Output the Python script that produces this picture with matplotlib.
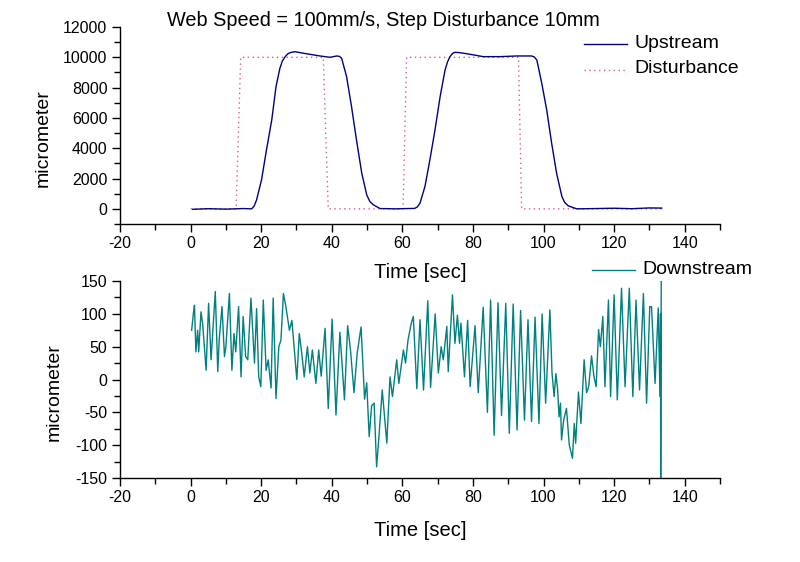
import numpy as np
import matplotlib
matplotlib.use("Agg")
import matplotlib.pyplot as plt
from matplotlib.lines import Line2D
from matplotlib.ticker import MultipleLocator

plt.rcParams["font.family"] = ["Liberation Sans", "DejaVu Sans"]
plt.rcParams["axes.unicode_minus"] = False

# ---------------------------------------------------------------------------
# Data
# ---------------------------------------------------------------------------
TITLE = "Web Speed = 100mm/s, Step Disturbance 10mm"

up_t = [0.6, 5, 10, 15, 17.3, 18.0, 18.7, 20.1, 21.5, 23.0, 24.2, 25.3, 26.0,
        26.8, 27.5, 28.2, 29.6, 31.0, 33.8, 36.7, 39.5, 41.4, 42.2, 42.8, 44.2,
        45.6, 47.0, 48.5, 49.9, 50.8, 51.8, 53.7, 58, 63.5, 64.2, 65.0, 66.4,
        67.8, 69.25, 70.7, 72.1, 72.8, 73.5, 74.2, 74.9, 76.3, 79.2, 82.9, 87.7,
        92.4, 96.6, 97.4, 98.1, 99.5, 100.9, 102.3, 103.7, 105.2, 106.0, 107.0,
        109.4, 115, 120, 125, 130, 133.5]
up_v = [-30, 10, -20, 20, 0, 180, 593, 1912, 3890, 5868, 8064, 9274, 9750,
        10044, 10220, 10308, 10373, 10308, 10198, 10088, 10000, 10088, 10060,
        9934, 8724, 6747, 4549, 2352, 923, 480, 264, 20, 0, 30, 120, 374, 1472,
        3230, 5208, 7406, 9164, 9700, 10044, 10250, 10330, 10308, 10198, 10044,
        10044, 10088, 10088, 10020, 9823, 8284, 6527, 4329, 2352, 813, 420, 198,
        0, 20, 40, 10, 60, 50]

dist_t = [0, 12.9, 14.2, 37.6, 39.0, 60.2, 61.2, 92.9, 93.8, 133.5]
dist_v = [0, 0, 10000, 10000, 0, 0, 10000, 10000, 0, 0]

down_t = [0.3, 0.8, 1.1, 1.5, 2.0, 2.3, 2.95, 3.4, 4.4, 5.1, 5.8, 7.0, 7.7, 8.1,
          8.9, 9.6, 10.0, 11.0, 11.7, 12.3, 12.8, 13.6, 14.3, 14.9, 15.6, 16.2,
          17.1, 18.1, 18.7, 19.3, 19.9, 20.6, 21.4, 22.0, 22.8, 23.4, 24.2, 25.0,
          25.6, 26.3, 27.0, 28.0, 28.7, 29.4, 30.1, 30.8, 31.5, 32.2, 33.1, 33.8,
          34.5, 35.5, 36.3, 37.0, 38.1, 39.0, 40.1, 41.2, 42.3, 43.6, 44.5, 45.3,
          46.3, 47.2, 48.3, 49.3, 49.9, 50.6, 51.3, 52.0, 52.7, 53.3, 54.3, 55.6,
          56.5, 57.2, 58.4, 59.0, 60.3, 60.9, 61.6, 62.5, 63.1, 64.1, 65.0, 66.0,
          67.2, 68.0, 69.3, 70.2, 71.0, 71.6, 72.6, 73.0, 74.2, 74.9, 75.6, 76.2,
          76.6, 77.6, 78.5, 79.2, 80.6, 81.5, 82.9, 84.1, 85.0, 86.0, 87.1, 88.1,
          89.3, 90.3, 91.4, 92.5, 93.5, 94.6, 95.6, 96.6, 97.6, 98.7, 99.6, 100.6,
          101.8, 102.4, 103.0, 103.5, 104.0, 104.4, 104.8, 105.1, 105.7, 106.5,
          107.3, 108.2, 108.7, 109.1, 109.9, 110.6, 111.5, 112.2, 112.8, 113.6,
          114.3, 114.9, 115.6, 116.1, 116.8, 117.4, 118.4, 119.0, 120.0, 120.9,
          122.1, 123.1, 124.3, 125.3, 126.2, 127.2, 128.3, 129.2, 130.1, 130.6,
          131.6, 132.5, 133.0, 133.15, 133.2, 133.35]
down_v = [75, 101, 113, 42, 75, 42, 103, 86, 14, 116, 30, 134, 12, 60,
          111, 35, 50, 131, 14, 70, 42, 111, 4, 96, 35, 30,
          124, 25, 108, 4, -11, 121, 14, 30, -13, 124, -29, 50,
          60, 131, 111, 75, 90, 45, 0, 70, 40, 4, 50, 10,
          45, -6, 45, 5, 78, -44, 92, -54, 72, -31, 82, 45,
          -20, 40, 80, -30, -5, -87, -40, -36, -133, -92, -16, -97,
          4, -26, 30, -6, 45, 25, 60, 85, 96, -14, 91, -16,
          120, -12, 100, 10, 50, 30, 81, 12, 129, 55, 98, 55,
          86, 4, 90, -11, 82, -20, 110, -50, 121, -85, 117, -55,
          116, -82, 115, -77, 105, -62, 91, -64, 95, -67, 100, -36,
          106, 10, -26, 9, -16, -57, -36, -92, -62, -44,
          -100, -120, -67, -97, -19, -67, 30, -20, -11, 36,
          4, -11, 76, 50, 96, -11, 121, -26, 129, -31,
          139, -11, 139, -26, 121, -16, 131, -36, 111, 111,
          -6, 109, -26, 100, -155, 152]

# ---------------------------------------------------------------------------
# Figure
# ---------------------------------------------------------------------------
W, H = 800, 562
fig = plt.figure(figsize=(8, 5.62), dpi=100, facecolor="white")

C_UP = "#000080"
C_DIST = "#e0559a"
C_DOWN = "#008080"
DOTS = (0, (1, 2.5))


def style_axes(ax):
    for side in ("top", "right"):
        ax.spines[side].set_visible(False)
    for side in ("left", "bottom"):
        ax.spines[side].set_linewidth(1.0)
    ax.tick_params(which="major", direction="out", length=6, width=1,
                   labelsize=11.5, pad=3)
    ax.tick_params(which="minor", direction="out", length=4, width=1)
    ax.set_xlim(-20, 150)
    ax.xaxis.set_major_locator(MultipleLocator(20))
    ax.xaxis.set_minor_locator(MultipleLocator(10))


def fx(px):
    return px / W


def fy(py):
    return 1 - py / H


# --- upper panel ---
ax1 = fig.add_axes([fx(120), fy(224), fx(720) - fx(120), fy(27) - fy(224)])
ax1.plot(dist_t, dist_v, color=C_DIST, lw=1.0, linestyle=DOTS, zorder=2)
ax1.plot(up_t, up_v, color=C_UP, lw=1.0, zorder=3)
ax1.set_ylim(-1000, 12000)
ax1.yaxis.set_major_locator(MultipleLocator(2000))
ax1.yaxis.set_minor_locator(MultipleLocator(1000))
style_axes(ax1)
ax1.set_yticks([0, 2000, 4000, 6000, 8000, 10000, 12000])

# --- lower panel ---
ax2 = fig.add_axes([fx(120), fy(478), fx(720) - fx(120), fy(281) - fy(478)])
ax2.plot(down_t, down_v, color=C_DOWN, lw=1.0)
ax2.set_ylim(-150, 150)
ax2.yaxis.set_major_locator(MultipleLocator(50))
ax2.yaxis.set_minor_locator(MultipleLocator(25))
style_axes(ax2)

# --- texts ---
fig.text(fx(383), fy(20), TITLE, fontsize=14.3, ha="center", va="center")
fig.text(fx(420), fy(272), "Time [sec]", fontsize=14.5, ha="center", va="center")
fig.text(fx(420), fy(530), "Time [sec]", fontsize=14.5, ha="center", va="center")
fig.text(fx(43), fy(138), "micrometer", fontsize=14, rotation=90,
         ha="center", va="center")
fig.text(fx(54), fy(392), "micrometer", fontsize=14, rotation=90,
         ha="center", va="center")

# --- legends (hand placed like the original) ---
fig.add_artist(Line2D([fx(584), fx(627)], [fy(43.5), fy(43.5)], color=C_UP, lw=1.0))
fig.text(fx(634), fy(44), "Upstream", fontsize=14, ha="left", va="center")
fig.add_artist(Line2D([fx(584), fx(627)], [fy(70), fy(70)], color=C_DIST, lw=1.0,
                      linestyle=DOTS))
fig.text(fx(634), fy(68.5), "Disturbance", fontsize=14, ha="left", va="center")
fig.add_artist(Line2D([fx(592), fx(635)], [fy(270), fy(270)], color=C_DOWN, lw=1.0))
fig.text(fx(642), fy(270), "Downstream", fontsize=14, ha="left", va="center")

fig.savefig("out.png", dpi=100, facecolor="white")
